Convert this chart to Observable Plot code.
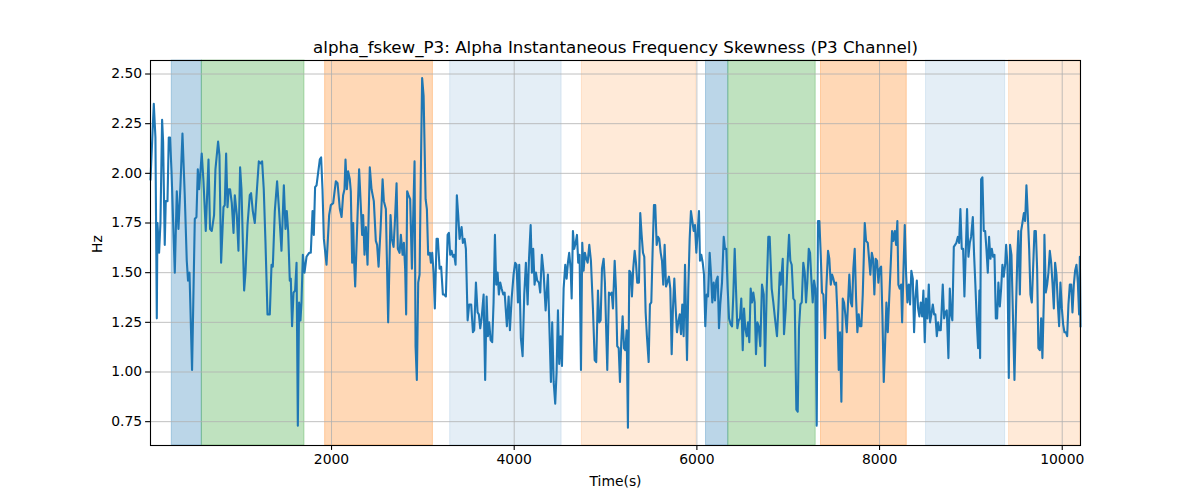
<!DOCTYPE html>
<html><head><meta charset="utf-8">
<script src="https://cdn.jsdelivr.net/npm/d3@7"></script>
<script src="https://cdn.jsdelivr.net/npm/@observablehq/plot@0.6"></script>
<style>html,body{margin:0;padding:0;background:#fff} svg{display:block}</style>
</head><body><div id="chart"></div>
<script>
const title = "alpha_fskew_P3: Alpha Instantaneous Frequency Skewness (P3 Channel)";
const xLabel = "Time(s)";
const yLabel = "Hz";
const xTicks = [2000, 4000, 6000, 8000, 10000];
const yTicks = [0.75, 1.00, 1.25, 1.50, 1.75, 2.00, 2.25, 2.50];
const xRange = [18, 10200];
const yRange = [0.63, 2.568];

const bandStart = [251, 580, 1930, 3299, 4741, 6100, 6344, 7359, 8509, 9418];
const bandEnd   = [580, 1704, 3110, 4519, 5990, 6344, 7301, 8298, 9375, 10200];
const bandKind  = ["blue", "green", "orange", "lightblue", "lightorange", "blue", "green", "orange", "lightblue", "lightorange"];

// [time (s), value (Hz)]
const series = [
[18,1.97],[54,2.35],[72,2.18],[87,1.27],[94,1.75],[112,1.60],[127,1.75],[145,2.27],[156,2.16],[174,1.64],
[185,1.86],[204,1.86],[218,2.18],[232,2.18],[248,2.01],[284,1.50],[306,1.91],[324,1.72],[346,1.94],[368,2.20],
[393,1.89],[415,1.56],[429,1.46],[445,1.50],[473,1.01],[503,1.77],[521,1.78],[536,2.02],[550,1.92],[579,2.10],
[598,1.96],[623,1.71],[653,2.07],[670,1.72],[689,1.71],[714,1.79],[729,2.02],[758,2.16],[773,2.09],[791,1.55],
[817,1.83],[831,1.84],[846,2.10],[861,1.83],[875,1.92],[889,1.92],[908,1.85],[927,1.70],[941,1.89],[963,1.79],
[981,1.61],[999,2.03],[1014,1.92],[1043,1.41],[1058,1.50],[1080,1.74],[1105,1.89],[1119,1.90],[1138,1.81],[1160,1.75],
[1182,1.91],[1204,2.06],[1226,2.05],[1240,2.06],[1258,1.92],[1277,1.65],[1299,1.29],[1324,1.29],[1343,1.54],[1357,1.53],
[1379,1.81],[1404,1.96],[1426,1.81],[1452,1.61],[1478,1.94],[1496,1.72],[1510,1.81],[1525,1.71],[1543,1.46],[1554,1.47],
[1568,1.23],[1584,1.40],[1601,1.41],[1617,1.55],[1631,0.73],[1645,1.35],[1660,1.26],[1671,1.35],[1686,1.59],[1704,1.50],
[1726,1.58],[1755,1.60],[1773,1.60],[1792,1.81],[1806,1.69],[1820,1.93],[1836,1.94],[1847,1.98],[1872,2.07],[1886,2.08],
[1901,1.92],[1916,1.67],[1945,1.54],[1974,1.79],[1992,1.84],[2018,1.85],[2047,1.96],[2066,1.95],[2091,1.82],[2110,1.78],
[2127,1.89],[2142,1.92],[2153,2.07],[2168,1.92],[2182,2.01],[2200,1.97],[2211,1.91],[2226,1.55],[2237,1.75],[2248,1.55],
[2259,1.43],[2280,1.72],[2302,2.02],[2321,1.83],[2335,1.69],[2346,1.79],[2361,1.59],[2376,1.73],[2394,1.54],[2419,2.03],
[2438,1.92],[2463,1.86],[2485,1.66],[2499,1.64],[2515,1.53],[2537,1.72],[2559,1.97],[2573,1.86],[2595,1.82],[2620,1.25],
[2646,1.79],[2660,1.67],[2679,1.63],[2693,1.75],[2712,1.95],[2726,1.62],[2745,1.60],[2759,1.69],[2778,1.59],[2792,1.65],
[2806,1.52],[2817,1.29],[2828,1.91],[2843,1.89],[2861,1.87],[2880,1.52],[2909,2.06],[2920,1.13],[2934,0.96],[2949,1.45],
[2964,1.49],[2978,2.01],[2992,2.48],[3008,2.39],[3030,1.87],[3044,1.82],[3058,1.59],[3077,1.60],[3088,1.55],[3102,1.60],
[3117,1.50],[3131,1.32],[3150,1.67],[3164,1.67],[3183,1.52],[3200,1.53],[3219,1.39],[3233,1.39],[3252,1.38],[3271,1.69],
[3285,1.70],[3299,1.59],[3314,1.61],[3329,1.58],[3343,1.59],[3358,1.54],[3372,1.89],[3387,1.79],[3402,1.67],[3424,1.73],
[3438,1.65],[3457,1.67],[3471,1.62],[3490,1.26],[3507,1.34],[3529,1.34],[3548,1.20],[3562,1.21],[3581,1.45],[3599,1.30],
[3613,1.29],[3628,1.22],[3643,1.27],[3665,1.39],[3682,0.96],[3698,1.38],[3712,1.18],[3726,1.25],[3742,1.16],[3759,1.15],
[3774,1.35],[3789,1.69],[3803,1.44],[3818,1.50],[3832,1.39],[3847,1.45],[3862,1.42],[3880,1.39],[3895,1.40],[3920,1.23],
[3939,1.38],[3953,1.21],[3972,1.37],[3993,1.49],[4011,1.55],[4026,1.54],[4041,1.35],[4055,1.54],[4073,1.17],[4092,1.08],
[4110,1.39],[4128,1.55],[4147,1.34],[4161,1.56],[4180,1.74],[4194,1.50],[4208,1.62],[4223,1.44],[4238,1.50],[4252,1.46],
[4271,1.45],[4285,1.40],[4303,1.59],[4322,1.50],[4344,1.31],[4369,1.49],[4388,1.18],[4402,0.95],[4416,1.25],[4432,0.95],
[4449,0.84],[4464,1.00],[4479,1.31],[4493,1.04],[4508,1.18],[4523,1.03],[4541,1.42],[4559,1.54],[4574,1.47],[4588,1.55],
[4602,1.60],[4618,1.52],[4629,1.37],[4643,1.71],[4657,1.62],[4673,1.65],[4687,1.69],[4701,1.55],[4716,1.59],[4731,1.01],
[4745,1.65],[4760,1.51],[4774,1.60],[4789,1.57],[4804,1.55],[4822,1.64],[4840,1.56],[4862,1.32],[4881,1.06],[4898,1.05],
[4917,1.41],[4931,1.25],[4946,1.26],[4961,1.52],[4979,1.57],[4993,1.45],[5019,1.01],[5037,1.40],[5052,1.39],[5067,1.40],
[5081,1.32],[5100,1.56],[5114,1.42],[5128,1.13],[5144,1.12],[5158,0.95],[5172,1.15],[5187,1.28],[5202,1.12],[5216,1.11],
[5231,1.21],[5245,0.72],[5260,1.51],[5275,1.50],[5289,1.38],[5303,1.52],[5319,1.61],[5333,1.55],[5347,1.45],[5366,1.45],
[5380,1.80],[5395,1.69],[5410,1.60],[5424,1.58],[5439,1.30],[5453,1.18],[5472,1.05],[5486,1.34],[5501,1.35],[5516,1.62],
[5530,1.84],[5544,1.84],[5560,1.64],[5574,1.68],[5588,1.67],[5604,1.60],[5618,1.56],[5632,1.44],[5647,1.64],[5662,1.43],
[5676,1.45],[5694,1.48],[5709,1.42],[5724,1.09],[5738,1.32],[5753,1.47],[5768,1.32],[5782,1.20],[5796,1.25],[5812,1.29],
[5826,1.19],[5840,1.34],[5855,1.18],[5870,1.54],[5892,1.06],[5906,1.42],[5921,1.67],[5935,1.81],[5950,1.76],[5965,1.71],
[5979,1.74],[5994,1.60],[6009,1.71],[6023,1.81],[6034,1.56],[6048,1.59],[6064,1.55],[6078,1.49],[6092,1.23],[6107,1.39],
[6122,1.38],[6140,1.60],[6155,1.49],[6169,1.35],[6184,1.45],[6198,1.36],[6213,1.46],[6228,1.48],[6242,1.22],[6256,1.34],
[6275,1.45],[6294,1.68],[6308,1.62],[6322,1.62],[6337,1.42],[6352,1.27],[6370,1.24],[6385,1.23],[6399,1.39],[6414,1.62],
[6428,1.42],[6443,1.22],[6458,1.26],[6472,1.27],[6486,1.37],[6502,1.11],[6516,1.32],[6530,1.22],[6546,1.18],[6560,1.25],
[6574,1.15],[6589,1.42],[6604,1.35],[6618,1.40],[6633,1.35],[6647,1.09],[6662,1.25],[6677,1.23],[6694,1.13],[6713,1.44],
[6732,1.39],[6746,1.03],[6765,1.42],[6782,1.68],[6797,1.68],[6819,1.42],[6837,1.35],[6855,1.27],[6877,1.18],[6892,1.32],
[6907,1.50],[6918,1.44],[6929,1.50],[6940,1.57],[6954,1.19],[6973,1.32],[6990,1.52],[7009,1.69],[7023,1.56],[7038,1.54],
[7056,1.37],[7071,1.36],[7089,0.81],[7104,0.80],[7118,1.22],[7133,1.34],[7148,1.35],[7165,1.55],[7181,1.50],[7195,1.35],
[7209,1.45],[7225,1.62],[7239,1.60],[7253,1.47],[7268,1.35],[7283,1.46],[7297,1.42],[7312,0.73],[7326,1.76],[7341,1.76],
[7356,1.59],[7370,1.40],[7385,1.39],[7403,1.17],[7417,1.42],[7436,1.61],[7450,1.57],[7466,1.44],[7480,1.49],[7494,1.47],
[7509,1.44],[7524,1.45],[7538,1.30],[7553,1.01],[7567,1.20],[7582,0.85],[7597,1.37],[7611,1.35],[7625,1.29],[7641,1.20],
[7655,1.35],[7669,1.49],[7685,1.35],[7699,1.33],[7713,1.52],[7728,1.62],[7743,1.37],[7757,1.20],[7772,1.29],[7787,1.23],
[7801,1.23],[7816,1.39],[7838,1.75],[7852,1.66],[7871,1.65],[7885,1.57],[7899,1.49],[7915,1.60],[7929,1.57],[7943,1.39],
[7958,1.57],[7973,1.56],[7987,1.45],[8002,1.52],[8017,1.53],[8031,1.29],[8046,0.95],[8060,1.13],[8075,1.35],[8090,1.20],
[8104,1.35],[8123,1.55],[8137,1.71],[8151,1.66],[8167,1.71],[8181,1.64],[8195,1.76],[8206,1.44],[8221,1.42],[8236,1.44],
[8247,1.25],[8261,1.50],[8276,1.74],[8290,1.50],[8305,1.35],[8320,1.44],[8334,1.34],[8348,1.51],[8364,1.47],[8378,1.20],
[8392,1.37],[8408,1.46],[8422,1.32],[8436,1.28],[8451,1.35],[8466,1.28],[8480,1.41],[8495,1.15],[8509,1.37],[8524,1.27],
[8539,1.44],[8553,1.25],[8567,1.29],[8583,1.34],[8597,1.29],[8611,1.29],[8627,1.18],[8641,1.25],[8655,1.21],[8670,1.21],
[8692,1.44],[8707,1.27],[8721,1.30],[8736,1.31],[8754,1.07],[8769,1.42],[8783,1.29],[8797,1.26],[8813,1.63],[8827,1.64],
[8841,1.65],[8857,1.68],[8871,1.65],[8885,1.82],[8900,1.62],[8915,1.62],[8929,1.38],[8944,1.61],[8958,1.82],[8973,1.58],
[8988,1.65],[9002,1.68],[9021,1.78],[9035,1.59],[9049,1.44],[9065,1.25],[9079,1.12],[9093,1.41],[9101,1.07],[9112,1.97],
[9126,1.98],[9141,1.71],[9156,1.71],[9170,1.62],[9185,1.50],[9199,1.68],[9214,1.57],[9229,1.62],[9243,1.58],[9258,1.59],
[9273,1.27],[9287,1.27],[9301,1.45],[9317,1.33],[9331,1.42],[9345,1.54],[9360,1.48],[9375,1.54],[9386,1.64],[9400,1.54],
[9415,0.97],[9429,1.64],[9444,1.59],[9462,1.25],[9477,0.96],[9495,1.34],[9509,1.59],[9520,1.71],[9536,1.39],[9550,1.71],
[9564,1.75],[9580,1.80],[9594,1.76],[9608,1.94],[9623,1.79],[9638,1.62],[9652,1.39],[9667,1.35],[9681,1.52],[9696,1.71],
[9711,1.71],[9725,1.52],[9739,1.12],[9755,1.11],[9769,1.27],[9783,1.07],[9799,1.37],[9805,1.69],[9820,1.40],[9835,1.44],
[9849,1.50],[9864,1.61],[9879,1.55],[9893,1.45],[9908,1.32],[9922,1.55],[9937,1.49],[9952,1.34],[9966,1.23],[9980,1.45],
[9996,1.32],[10010,1.24],[10024,1.20],[10040,1.20],[10054,1.18],[10068,1.34],[10083,1.44],[10098,1.44],[10112,1.30],[10127,1.44],
[10141,1.51],[10156,1.54],[10171,1.45],[10185,1.29],[10193,1.58],[10200,1.23]
];

const kindStyle = {
  blue: {color: "#1f77b4", opacity: 0.3},
  green: {color: "#2ca02c", opacity: 0.3},
  orange: {color: "#ff7f0e", opacity: 0.3},
  lightblue: {color: "#1f77b4", opacity: 0.12},
  lightorange: {color: "#ff7f0e", opacity: 0.16}
};

const bands = bandStart.map((s, i) => ({x1: s, x2: bandEnd[i], kind: bandKind[i]}));
const data = series.map(([t, v]) => ({t, v}));

const bandMarks = Object.entries(kindStyle).map(([kind, st]) =>
  Plot.rect(bands.filter(b => b.kind === kind), {
    x1: "x1", x2: "x2",
    fill: st.color, fillOpacity: st.opacity,
    stroke: st.color, strokeOpacity: st.opacity, strokeWidth: 1
  })
);

const chart = Plot.plot({
  width: 1200, height: 500,
  marginLeft: 150, marginRight: 120, marginTop: 60, marginBottom: 55,
  style: {fontFamily: "'DejaVu Sans', sans-serif", fontSize: "13.9px", background: "#fff", color: "#000"},
  x: {domain: xRange},
  y: {domain: yRange},
  marks: [
    ...bandMarks,
    Plot.gridX(xTicks, {stroke: "#b0b0b0", strokeOpacity: 1, strokeWidth: 0.8}),
    Plot.gridY(yTicks, {stroke: "#b0b0b0", strokeOpacity: 1, strokeWidth: 0.8}),
    Plot.line(data, {x: "t", y: "v", stroke: "#1f77b4", strokeWidth: 2.1, strokeLinejoin: "round", strokeLinecap: "square"}),
    Plot.frame({stroke: "#000", strokeWidth: 1.1}),
    Plot.axisX(xTicks, {tickSize: 4.9, tickPadding: 3.5, tickFormat: d3.format("d"), fontSize: 13.9, label: null, strokeWidth: 1.1}),
    Plot.axisY(yTicks, {tickSize: 4.9, tickPadding: 3.5, tickFormat: d3.format(".2f"), fontSize: 13.9, label: null, strokeWidth: 1.1}),
    Plot.text([title], {text: d => d, frameAnchor: "top", lineAnchor: "bottom", dy: -8, fontSize: 16.7}),
    Plot.text([xLabel], {text: d => d, frameAnchor: "bottom", lineAnchor: "middle", dy: 36, fontSize: 13.9}),
    Plot.text([yLabel], {text: d => d, frameAnchor: "left", lineAnchor: "middle", rotate: -90, dx: -53, fontSize: 13.9})
  ]
});
document.getElementById("chart").appendChild(chart);
</script>
</body></html>
